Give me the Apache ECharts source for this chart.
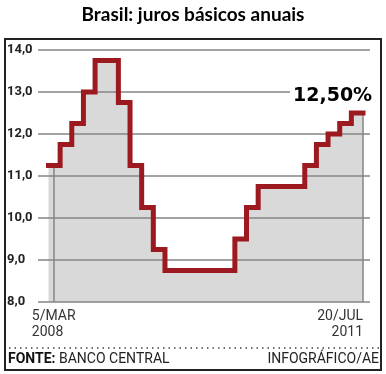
<!DOCTYPE html>
<html>
<head>
<meta charset="utf-8">
<script src="https://cdn.jsdelivr.net/npm/echarts@6/dist/echarts.min.js"></script>
<style>
html,body{margin:0;padding:0;background:#fff;}
#c{width:386px;height:374px;}
</style>
</head>
<body>
<div id="c"></div>
<script>
// Step index (equal-spaced Copom meeting intervals) where each rate starts
const stepStarts = [0, 1, 2, 3, 4, 6, 7, 8, 9, 10, 16, 17, 18, 22, 23, 24, 25, 26];
// Selic rate (% a.a.) in force from each step start
const rates = [11.25, 11.75, 12.25, 13.0, 13.75, 12.75, 11.25, 10.25, 9.25, 8.75, 9.5, 10.25, 10.75, 11.25, 11.75, 12.0, 12.25, 12.5];
const endStep = 27;
// Date marks on the x axis
const dateTicks = [0.45, 27];
const dateLabels = [['5/MAR', '2008'], ['20/JUL', '2011']];
// y axis
const yMin = 8, yMax = 14, yStep = 1;
const lastLabel = '12,50%';

const pts = stepStarts.map((s, i) => [s, rates[i]]);
pts.push([endStep, rates[rates.length - 1]]);

const gridGray = '#858585';
const narrow = '"Liberation Sans Narrow", "Roboto", sans-serif';

const chart = echarts.init(document.getElementById('c'), null, {renderer: 'canvas'});
chart.setOption({
  animation: false,
  backgroundColor: '#fff',
  title: {
    text: 'Brasil: juros básicos anuais',
    left: 'center', top: 0,
    textStyle: {fontFamily: 'Lato', fontWeight: 'bold', fontSize: 19, color: '#000'}
  },
  grid: {left: 38, right: 16, top: 50, bottom: 72},
  xAxis: [{
    type: 'value', min: -0.9, max: 27.6, position: 'bottom',
    axisLine: {show: false}, axisTick: {show: false}, splitLine: {show: false},
    axisLabel: {
      customValues: [dateTicks[0]],
      margin: 6,
      formatter: () => '{a|' + dateLabels[0][0] + '}\n{a|' + dateLabels[0][1] + '}',
      rich: {a: {align: 'left', fontFamily: narrow, fontSize: 14, color: '#333', lineHeight: 16}}
    }
  }, {
    type: 'value', min: -0.9, max: 27.6, position: 'bottom', offset: 0,
    axisLine: {show: false}, axisTick: {show: false}, splitLine: {show: false},
    axisLabel: {
      customValues: [dateTicks[1]],
      margin: 6, align: 'right',
      formatter: () => dateLabels[1].join('\n'),
      fontFamily: narrow, fontSize: 14, color: '#333', lineHeight: 16
    }
  }],
  yAxis: {
    type: 'value', min: yMin, max: yMax, interval: yStep, z: 3,
    axisLine: {show: false}, axisTick: {show: false},
    splitLine: {show: true, lineStyle: {color: gridGray, width: 1.5}},
    axisLabel: {
      align: 'left', margin: 31,
      formatter: v => v.toFixed(1).replace('.', ','),
      fontFamily: 'Roboto', fontWeight: 'bold', fontSize: 13, color: '#222'
    }
  },
  series: [{
    type: 'line', step: 'end', data: pts, z: 1,
    symbol: 'none', lineStyle: {width: 0},
    areaStyle: {color: '#d9d9d9', opacity: 1, origin: 'start'},
    markLine: {
      silent: true, symbol: 'none', label: {show: false},
      lineStyle: {color: gridGray, width: 1.5, type: 'solid'},
      data: [
        [{coord: [dateTicks[0], rates[0]]}, {coord: [dateTicks[0], yMin]}],
        [{coord: [dateTicks[1], rates[rates.length - 1]]}, {coord: [dateTicks[1], yMin]}]
      ]
    }
  }, {
    type: 'line', step: 'end', data: pts, z: 5,
    symbol: 'none',
    lineStyle: {color: '#9c1a1f', width: 5, join: 'miter', cap: 'square'},
    markPoint: {
      symbol: 'circle', symbolSize: 0,
      data: [{coord: [endStep, rates[rates.length - 1]]}],
      label: {
        show: true, formatter: lastLabel, position: [-73, -27],
        fontFamily: 'DejaVu Sans', fontWeight: 'bold', fontSize: 19, color: '#000',
        backgroundColor: '#fff', padding: [1, 3, 1, 3]
      }
    }
  }],
  graphic: [
    {type: 'rect', shape: {x: 5, y: 39, width: 376, height: 331}, style: {fill: 'none', stroke: '#222', lineWidth: 2}, z: 10},
    {type: 'line', shape: {x1: 9, y1: 348, x2: 379, y2: 348}, style: {stroke: '#444', lineWidth: 1.5, lineDash: [1.5, 4]}, z: 10},
    {type: 'text', left: 8, top: 352, z: 10,
      style: {text: '{b|FONTE:} BANCO CENTRAL', font: '14px ' + narrow, fill: '#222',
        rich: {b: {fontWeight: 'bold', fontFamily: narrow, fontSize: 14, fill: '#111'}}}},
    {type: 'text', right: 7, top: 352, z: 10,
      style: {text: 'INFOGRÁFICO/AE', font: '14px ' + narrow, fill: '#222'}}
  ]
});
</script>
</body>
</html>
